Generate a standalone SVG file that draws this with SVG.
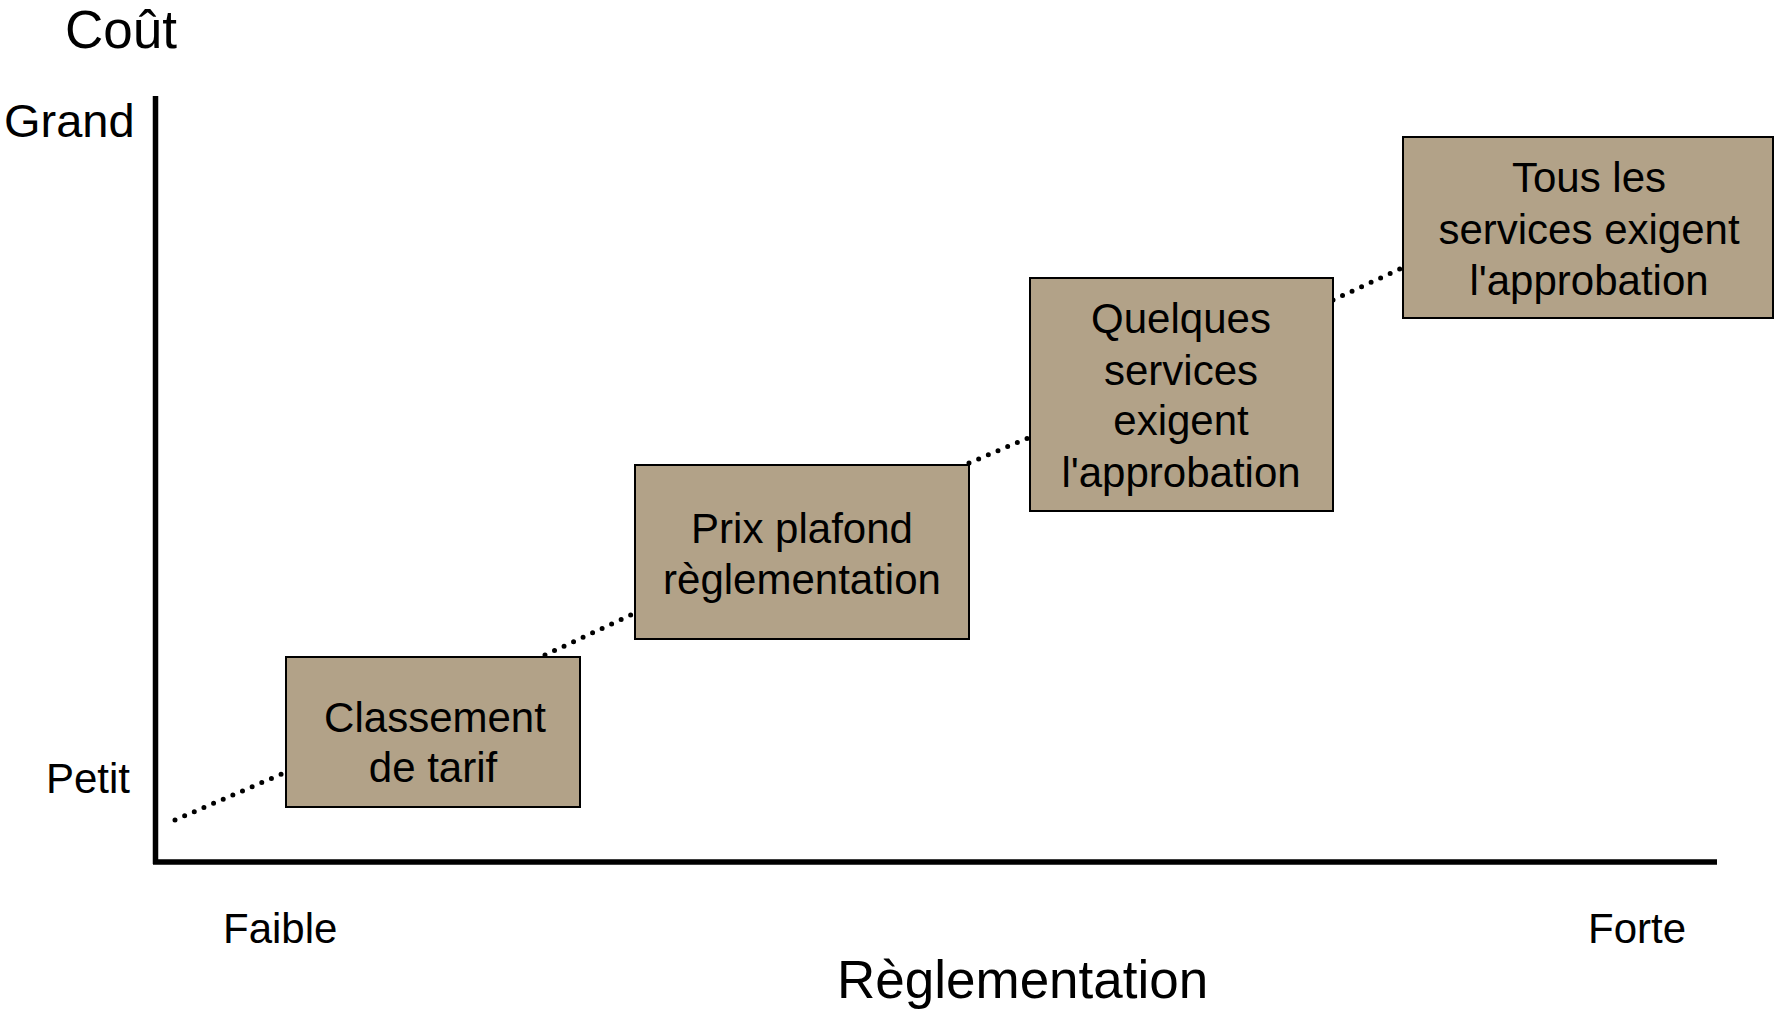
<svg xmlns="http://www.w3.org/2000/svg" width="1779" height="1010" viewBox="0 0 1779 1010">
<style>
text{font-family:"Liberation Sans",Arial,sans-serif;fill:#000}
.big{font-size:53px}
.lbl{font-size:42px}
.ax{font-size:47px}
.box rect{fill:#B2A288;stroke:#000;stroke-width:2}
.box text{font-size:42px;text-anchor:middle}
.dot{stroke:#000;stroke-width:5;stroke-linecap:round;stroke-dasharray:0 10.5;fill:none}
.axis{stroke:#000;stroke-width:5.5;fill:none}
</style>
<rect width="1779" height="1010" fill="#fff"/>
<g id="axes">
<path class="axis" d="M155.5 96 V864 M153 862 H1717"/>
<text class="big" x="65" y="48">Coût</text>
<text class="ax" x="4" y="137">Grand</text>
<text class="lbl" x="46" y="793">Petit</text>
<text class="lbl" x="223" y="943">Faible</text>
<text class="lbl" x="1588" y="943">Forte</text>
<text class="big" x="837" y="998">Règlementation</text>
</g>
<g id="connectors">
<line class="dot" x1="175" y1="820" x2="284" y2="773"/>
<line class="dot" x1="545" y1="655" x2="633" y2="614"/>
<line class="dot" x1="969" y1="463" x2="1028" y2="438"/>
<line class="dot" x1="1333" y1="300" x2="1402" y2="268"/>
</g>
<g id="n1" class="box">
<rect x="286" y="657" width="294" height="150"/>
<text x="435" y="732">Classement</text>
<text x="433" y="782">de tarif</text>
</g>
<g id="n2" class="box">
<rect x="635" y="465" width="334" height="174"/>
<text x="802" y="543">Prix plafond</text>
<text x="802" y="594">règlementation</text>
</g>
<g id="n3" class="box">
<rect x="1030" y="278" width="303" height="233"/>
<text x="1181" y="333">Quelques</text>
<text x="1181" y="385">services</text>
<text x="1181" y="435">exigent</text>
<text x="1181" y="487">l'approbation</text>
</g>
<g id="n4" class="box">
<rect x="1403" y="137" width="370" height="181"/>
<text x="1589" y="192">Tous les</text>
<text x="1589" y="244">services exigent</text>
<text x="1589" y="295">l'approbation</text>
</g>
</svg>
